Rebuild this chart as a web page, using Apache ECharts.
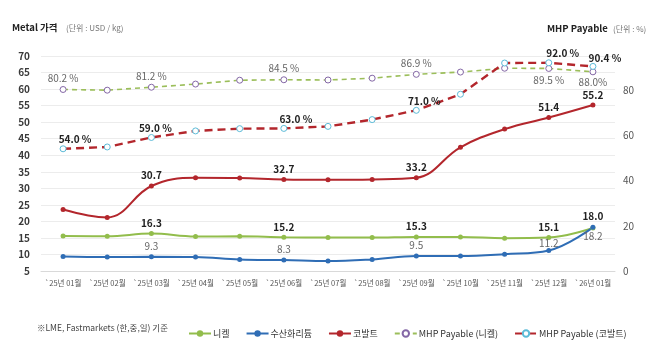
<!DOCTYPE html>
<html>
<head>
<meta charset="utf-8">
<script src="https://cdn.jsdelivr.net/npm/echarts@6/dist/echarts.min.js"></script>
<style>html,body{margin:0;padding:0;background:#fff;}#c{width:658px;height:348px;}</style>
</head>
<body>
<div id="c"></div>
<script>
const months = ['`25년 01월','`25년 02월','`25년 03월','`25년 04월','`25년 05월','`25년 06월','`25년 07월','`25년 08월','`25년 09월','`25년 10월','`25년 11월','`25년 12월','`26년 01월'];
const nickel  = [15.6,15.5,16.3,15.4,15.5,15.2,15.1,15.1,15.3,15.3,14.9,15.1,18.0];
const lithium = [9.4,9.2,9.3,9.2,8.5,8.3,8.0,8.5,9.5,9.5,10.1,11.2,18.2];
const cobalt  = [23.6,21.2,30.7,33.2,33.1,32.7,32.6,32.7,33.2,42.4,47.9,51.4,55.2];
const mhpNickel = [80.2,79.9,81.2,82.6,84.3,84.5,84.4,85.2,86.9,87.9,89.6,89.5,88.0];
const mhpCobalt = [54.0,54.8,59.0,61.9,62.9,63.0,63.9,66.9,71.0,78.1,91.9,92.0,90.4];
const leftTicks = {min:5, max:70, interval:5};
const rightTicks = {min:0, max:95, interval:20};

const FONT = '"Noto Sans CJK KR", "Noto Sans", sans-serif';
const chart = echarts.init(document.getElementById('c'), null, {renderer:'canvas'});

function labeled(values, spec, fmt) {
  return values.map((v, i) => {
    const s = spec[i];
    if (!s) return {value: v, label: {show: false}};
    return {value: v, label: Object.assign({show: true, formatter: fmt ? fmt(v, i) : v.toFixed(1)}, s)};
  });
}
const boldLab = {color:'#222', fontWeight:'bold', fontSize:10, fontFamily:FONT};
const grayLab = {color:'#666', fontWeight:'normal', fontSize:10, fontFamily:FONT};
function at(pos, dist, base, extra) { return Object.assign({position: pos, distance: dist}, base, extra || {}); }

const nickelSpec = {2:at('top',3,boldLab),5:at('top',3,boldLab),8:at('top',3,boldLab),11:at('top',3,boldLab),12:at('top',4,boldLab)};
const lithiumSpec = {2:at('top',3,grayLab),5:at('top',3,grayLab),8:at('top',3,grayLab),11:at('top',0,grayLab),12:at('bottom',1,grayLab)};
const cobaltSpec = {2:at('top',3,boldLab),5:at('top',3,boldLab),8:at('top',3,boldLab),11:at('top',3,boldLab),12:at('top',2,boldLab)};
const mhpNiSpec = {0:at('top',3,grayLab),2:at('top',3,grayLab),5:at('top',3,grayLab),8:at('top',3,grayLab),11:at('bottom',3,grayLab),12:at('bottom',2,grayLab)};
const mhpCoSpec = {0:at('top',1,boldLab,{offset:[12,0]}),2:at('top',1,boldLab,{offset:[4,0]}),5:at('top',1,boldLab,{offset:[12,0]}),8:at('top',1,boldLab,{offset:[8,0]}),11:at('top',1,boldLab,{offset:[14,0]}),12:at('top',0,boldLab,{offset:[12,0]})};

const C_NI = '#92bd4c', C_LI = '#2f6db5', C_CO = '#b3262c';

chart.setOption({
  backgroundColor:'#fff',
  animation:false,
  textStyle:{fontFamily:FONT},
  graphic:[
    {type:'text', left:12, top:23, style:{text:'Metal 가격', font:'bold 9.5px '+FONT, fill:'#222'}},
    {type:'text', left:66, top:24, style:{text:'(단위 : USD / kg)', font:'8px '+FONT, fill:'#777'}},
    {type:'text', left:547, top:24, style:{text:'MHP Payable', font:'bold 9.5px '+FONT, fill:'#222'}},
    {type:'text', left:613, top:25, style:{text:'(단위 : %)', font:'8px '+FONT, fill:'#777'}},
    {type:'text', left:37, top:324, style:{text:'※LME, Fastmarkets (한,중,일) 기준', font:'8.5px '+FONT, fill:'#444'}}
  ],
  legend:{
    left:183, top:324, itemWidth:22, itemHeight:8, itemGap:16,
    textStyle:{fontSize:9, color:'#333', fontFamily:FONT, padding:[0,0,0,-3]},
    data:['니켈','수산화리튬','코발트','MHP Payable (니켈)','MHP Payable (코발트)']
  },
  grid:{left:41, right:43, top:56, bottom:77, containLabel:false},
  xAxis:{
    type:'category', data:months, boundaryGap:true,
    axisLine:{lineStyle:{color:'#d9d9d9'}}, axisTick:{show:false},
    axisLabel:{fontSize:7.5, color:'#555', margin:8, fontFamily:FONT, interval:0}
  },
  yAxis:[
    {type:'value', min:leftTicks.min, max:leftTicks.max, interval:leftTicks.interval,
     axisLine:{show:false}, axisTick:{show:false},
     axisLabel:{fontSize:10, color:'#3a3a3a', fontWeight:'bold', margin:11, fontFamily:FONT},
     splitLine:{lineStyle:{color:'#ececec'}}},
    {type:'value', min:rightTicks.min, max:rightTicks.max, interval:rightTicks.interval,
     axisLine:{show:false}, axisTick:{show:false}, splitLine:{show:false},
     axisLabel:{fontSize:10, color:'#555', margin:8, showMaxLabel:false, fontFamily:FONT}}
  ],
  series:[
    {name:'MHP Payable (니켈)', type:'line', yAxisIndex:1, data:labeled(mhpNickel, mhpNiSpec, (v,i)=> i===12 ? v.toFixed(1)+'%' : v.toFixed(1)+' %'),
     symbol:'circle', symbolSize:6, showAllSymbol:true,
     lineStyle:{color:'#9bbe5a', width:1.6, type:[5,4]},
     itemStyle:{color:'#fff', borderColor:'#8467a6', borderWidth:1}},
    {name:'MHP Payable (코발트)', type:'line', yAxisIndex:1, data:labeled(mhpCobalt, mhpCoSpec, v=> v.toFixed(1)+' %'),
     symbol:'circle', symbolSize:6, showAllSymbol:true,
     lineStyle:{color:C_CO, width:2.4, type:[8,5]},
     itemStyle:{color:'#fff', borderColor:'#5cbbd8', borderWidth:1}},
    {name:'코발트', type:'line', data:labeled(cobalt, cobaltSpec), smooth:0.4,
     symbol:'circle', symbolSize:5, showAllSymbol:true,
     lineStyle:{color:C_CO, width:2}, itemStyle:{color:C_CO}},
    {name:'니켈', type:'line', data:labeled(nickel, nickelSpec), smooth:0.4,
     symbol:'circle', symbolSize:5, showAllSymbol:true,
     lineStyle:{color:C_NI, width:2}, itemStyle:{color:C_NI}},
    {name:'수산화리튬', type:'line', data:labeled(lithium, lithiumSpec), smooth:0.4,
     symbol:'circle', symbolSize:5, showAllSymbol:true,
     lineStyle:{color:C_LI, width:2}, itemStyle:{color:C_LI}}
  ]
});
</script>
</body>
</html>
